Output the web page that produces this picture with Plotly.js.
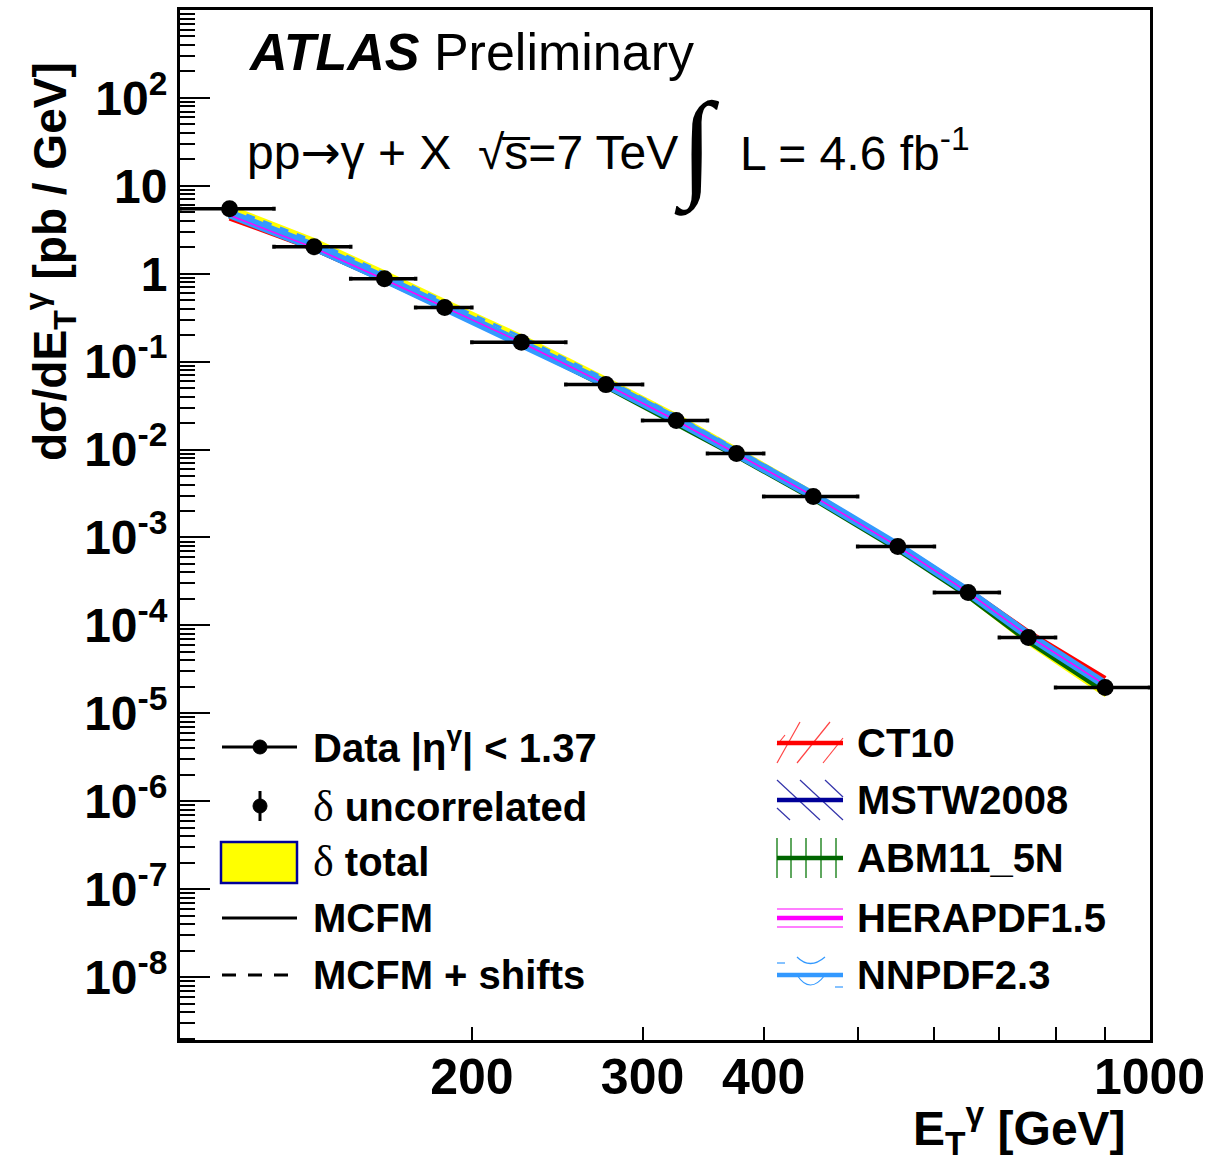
<!DOCTYPE html>
<html>
<head>
<meta charset="utf-8">
<script src="https://cdn.plot.ly/plotly-3.0.1.min.js"></script>
<style>html,body{margin:0;padding:0;background:#fff;}</style>
</head>
<body>
<div id="chart" style="width:1211px;height:1162px;"></div>
<script>
// ---- data ----
const binLo = [100,125,150,175,200,250,300,350,400,500,600,700,800];
const binHi = [125,150,175,200,250,300,350,400,500,600,700,800,1000];
const etCenter = [112.5,137.5,162.5,187.5,225,275,325,375,450,550,650,750,900];
const dataXsec = [5.48,2.03,0.877,0.414,0.166,0.0548,0.0214,0.00901,0.00292,7.9e-4,2.37e-4,7.3e-5,1.97e-5];
const dataErrUncorr = [0.05,0.02,0.009,0.005,0.002,0.0008,0.0004,0.0002,0.00008,2.5e-5,1.0e-5,4.5e-6,1.8e-6];
const totalHi = [6.10,2.56,1.10,0.520,0.207,0.0680,0.0260,0.0108,0.00342,8.8e-4,2.56e-4,7.9e-5,2.10e-5];
const totalLo = [4.40,1.88,0.825,0.395,0.157,0.0522,0.0201,0.0084,0.00272,7.1e-4,2.00e-4,5.9e-5,1.52e-5];
const ct10   = [4.30,1.92,0.845,0.408,0.164,0.0550,0.0216,0.0092,0.00306,8.3e-4,2.53e-4,8.4e-5,2.50e-5];
const mstw   = [4.70,2.00,0.870,0.418,0.167,0.0556,0.0216,0.0091,0.00298,7.9e-4,2.37e-4,7.5e-5,2.05e-5];
const abm    = [4.65,1.98,0.862,0.410,0.162,0.0538,0.0207,0.0087,0.00283,7.5e-4,2.22e-4,6.8e-5,1.82e-5];
const hera   = [4.62,1.97,0.860,0.413,0.165,0.0552,0.0214,0.0090,0.00296,7.9e-4,2.38e-4,7.6e-5,2.10e-5];
const nnpdf  = [4.80,2.03,0.880,0.420,0.168,0.0560,0.0218,0.0092,0.00300,8.0e-4,2.40e-4,7.7e-5,2.13e-5];
const shifts = [5.55,2.34,1.010,0.480,0.191,0.0630,0.0242,0.0101,0.00324,8.4e-4,2.48e-4,7.8e-5,2.10e-5];
const xTickVals = [200,300,400,1000];
const xTickText = ['200','300','400','1000'];
const xMinorVals = [500,600,700,800,900];
const yTickVals = [1e-8,1e-7,1e-6,1e-5,1e-4,1e-3,1e-2,1e-1,1,10,100];
const yTickText = ['10<sup>-8</sup>','10<sup>-7</sup>','10<sup>-6</sup>','10<sup>-5</sup>','10<sup>-4</sup>','10<sup>-3</sup>','10<sup>-2</sup>','10<sup>-1</sup>','1','10','10<sup>2</sup>'];

const errPlus = binHi.map((h,i)=>h-etCenter[i]);
const errMinus = binLo.map((l,i)=>etCenter[i]-l);

const FONT = 'Liberation Sans, Arial, Helvetica, sans-serif';

const traces = [
  {x: etCenter.concat(etCenter.slice().reverse()), y: totalHi.concat(totalLo.slice().reverse()),
   type:'scatter', mode:'lines', fill:'toself', fillcolor:'#ffff00', line:{width:0,color:'#ffff00'}, hoverinfo:'skip', showlegend:false},
  {x: etCenter, y: shifts, type:'scatter', mode:'lines', line:{color:'#3399ff', width:3, dash:'9px,9px'}, showlegend:false},
  {x: etCenter, y: abm, type:'scatter', mode:'lines', line:{color:'#006600', width:7}, showlegend:false},
  {x: etCenter, y: ct10, type:'scatter', mode:'lines', line:{color:'#ff0000', width:5}, showlegend:false},
  {x: etCenter, y: mstw, type:'scatter', mode:'lines', line:{color:'#000099', width:5}, showlegend:false},
  {x: etCenter, y: nnpdf, type:'scatter', mode:'lines', line:{color:'#3399ff', width:9}, showlegend:false},
  {x: etCenter, y: hera, type:'scatter', mode:'lines', line:{color:'#ff00ff', width:1.5}, showlegend:false},
  {x: etCenter, y: dataXsec, type:'scatter', mode:'markers',
   marker:{color:'#000', size:17},
   error_x:{type:'data', array:errPlus, arrayminus:errMinus, color:'#000', thickness:3.5, width:2},
   error_y:{type:'data', array:dataErrUncorr, color:'#000', thickness:3, width:0},
   showlegend:false}
];

const L=180, R=1150, T=10, B=1040;
const px = x => (x-L)/(R-L);
const py = y => (B-y)/(B-T);

const shapes = [];
const ann = [];
function seg(x0,y0,x1,y1,color,width,dash){
  shapes.push({type:'line', xref:'paper', yref:'paper', x0:px(x0), y0:py(y0), x1:px(x1), y1:py(y1),
    line:{color:color, width:width, dash:dash||'solid'}});
}
function txt(x,y,text,size,anchor,extra){
  ann.push(Object.assign({xref:'paper', yref:'paper', x:px(x), y:py(y), text:text, showarrow:false,
    xanchor:anchor||'left', yanchor:'middle', font:{family:FONT, size:size, color:'#000'}}, extra||{}));
}

// header texts
txt(246,52,'<b><i>ATLAS</i></b> Preliminary',52);
txt(245,152,'pp<span style="font-family:DejaVu Sans">\u2192</span>\u03b3 + X',48);
txt(476,152,'\u221as\u0305=7 TeV',48);
txt(697,148,'\u222b',118,'center',{font:{family:'Liberation Serif, DejaVu Serif, serif', size:118, color:'#000'}});
txt(738,150,'L = 4.6 fb<sup>-1</sup>',48);

// axis titles
txt(50,262,'<b>d\u03c3/dE<sub>T</sub><sup>\u03b3</sup> [pb / GeV]</b>',46,'center',{textangle:-90});
txt(1128,1128,'<b>E<sub>T</sub><sup>\u03b3</sup> [GeV]</b>',48,'right');

// legend left column
seg(222,747,297,747,'#000',3);
shapes.push({type:'circle', xref:'paper', yref:'paper', x0:px(253), x1:px(267), y0:py(754), y1:py(740), fillcolor:'#000', line:{color:'#000', width:1}});
txt(311,745,'<b>Data |\u03b7<sup>\u03b3</sup>| < 1.37</b>',40);
seg(260,791,260,821,'#000',3);
shapes.push({type:'circle', xref:'paper', yref:'paper', x0:px(253), x1:px(267), y0:py(813), y1:py(799), fillcolor:'#000', line:{color:'#000', width:1}});
txt(311,806,'<span style="font-family:Liberation Serif;font-size:44px">\u03b4</span> <b>uncorrelated</b>',40);
shapes.push({type:'rect', xref:'paper', yref:'paper', x0:px(221), x1:px(297), y0:py(883), y1:py(842), fillcolor:'#ffff00', line:{color:'#000099', width:2.5}});
txt(311,862,'<span style="font-family:Liberation Serif;font-size:44px">\u03b4</span> <b>total</b>',40);
seg(222,918,297,918,'#000',3);
txt(311,918,'<b>MCFM</b>',40);
seg(222,975,297,975,'#000',3,'14px,12px');
txt(311,975,'<b>MCFM + shifts</b>',40);

// legend right column
const lx0 = 777, lx1 = 843;
// CT10
[[777,763,800,722],[797,763,830,722],[823,763,843,738],[777,745,785,735]].forEach(s=>seg(s[0],s[1],s[2],s[3],'#ff4444',1.2));
seg(lx0,743,lx1,743,'#ff0000',4.5);
txt(855,743,'<b>CT10</b>',40);
// MSTW2008
[[777,780,820,820],[800,780,843,820],[825,780,843,797],[777,808,790,820]].forEach(s=>seg(s[0],s[1],s[2],s[3],'#3333aa',1.2));
seg(lx0,800,lx1,800,'#000099',4.5);
txt(855,800,'<b>MSTW2008</b>',40);
// ABM11_5N
[777,791,806,821,836].forEach(x=>seg(x,838,x,878,'#2a8a2a',1.5));
seg(lx0,858,lx1,858,'#006600',4.5);
txt(855,858,'<b>ABM11_5N</b>',40);
// HERAPDF1.5
seg(lx0,909,lx1,909,'#ff00ff',1.2);
seg(lx0,927,lx1,927,'#ff00ff',1.2);
seg(lx0,918,lx1,918,'#ff00ff',4.5);
txt(855,918,'<b>HERAPDF1.5</b>',40);
// NNPDF2.3
seg(lx0,975,lx1,975,'#3399ff',4.5);
shapes.push({type:'path', xref:'paper', yref:'paper', line:{color:'#3399ff', width:1.2},
  path:`M ${px(797)} ${py(957)} Q ${px(810)} ${py(970)} ${px(825)} ${py(957)}`});
shapes.push({type:'path', xref:'paper', yref:'paper', line:{color:'#3399ff', width:1.2},
  path:`M ${px(797)} ${py(975)} Q ${px(810)} ${py(995)} ${px(825)} ${py(975)}`});
seg(lx0,963,785,963,'#3399ff',1.2);
seg(835,987,lx1,987,'#3399ff',1.2);
txt(855,975,'<b>NNPDF2.3</b>',40);

const layout = {
  width:1211, height:1162,
  margin:{l:L, r:1211-R, t:T, b:1162-B, pad:0},
  paper_bgcolor:'#fff', plot_bgcolor:'#fff',
  showlegend:false,
  font:{family:FONT, color:'#000'},
  xaxis:{type:'log', range:[2,3.0005], tickmode:'array', tickvals:xTickVals, ticktext:xTickText,
    ticks:'inside', ticklen:13, tickwidth:2, tickcolor:'#000',
    minor:{tickmode:'array', tickvals:xMinorVals, ticks:'inside', ticklen:13, tickwidth:2, tickcolor:'#000', showgrid:false},
    showline:true, linewidth:3, linecolor:'#000', mirror:true, showgrid:false, zeroline:false,
    tickfont:{family:FONT, size:50, weight:'bold', color:'#000'}, ticklabelstandoff:-9},
  yaxis:{type:'log', range:[-8.716,3.0], tickmode:'array', tickvals:yTickVals, ticktext:yTickText,
    ticks:'inside', ticklen:30, tickwidth:2, tickcolor:'#000',
    minor:{ticks:'inside', ticklen:15, tickwidth:2, tickcolor:'#000', dtick:'D1', showgrid:false},
    showline:true, linewidth:3, linecolor:'#000', mirror:true, showgrid:false, zeroline:false,
    tickfont:{family:FONT, size:48, weight:'bold', color:'#000'}, ticklabelstandoff:0},
  shapes:shapes,
  annotations:ann
};

Plotly.newPlot('chart', traces, layout, {displayModeBar:false, staticPlot:true});
</script>
</body>
</html>
